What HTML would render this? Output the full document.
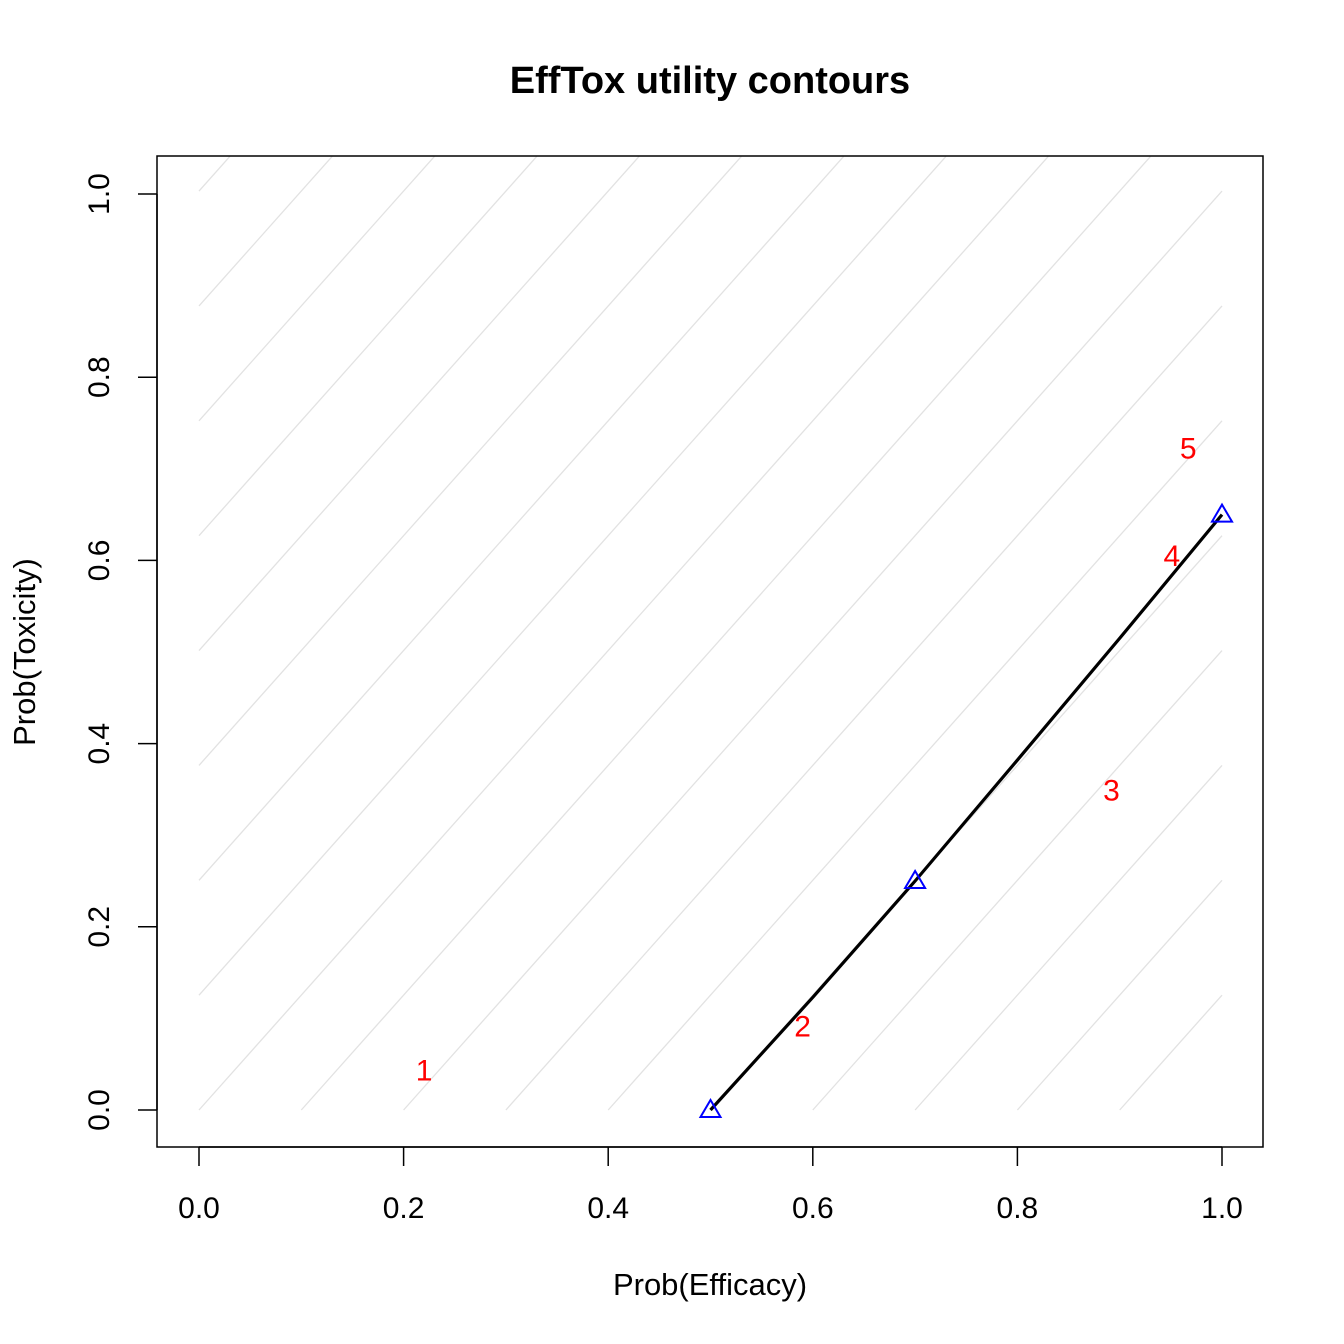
<!DOCTYPE html>
<html><head><meta charset="utf-8"><style>
html,body{margin:0;padding:0;background:#fff;}
svg{display:block;font-family:"Liberation Sans",Arial,sans-serif;}
</style></head><body>
<svg id="chart" width="1344" height="1344" viewBox="0 0 1344 1344">
<defs><clipPath id="pc"><rect x="157" y="156" width="1106" height="991"/></clipPath></defs>
<text x="710" y="93" text-anchor="middle" font-size="38" font-weight="bold">EffTox utility contours</text>
<g id="bg" clip-path="url(#pc)"></g>
<g id="marks"></g>
<rect x="157" y="156" width="1106" height="991" fill="none" stroke="#000" stroke-width="1.5"/>
<g id="axes"></g>
<text x="710" y="1295" text-anchor="middle" font-size="31">Prob(Efficacy)</text>
<text transform="translate(35,652) rotate(-90)" text-anchor="middle" font-size="31">Prob(Toxicity)</text>
</svg>
<script>
const xTicks = [0.0,0.2,0.4,0.6,0.8,1.0];
const yTicks = [0.0,0.2,0.4,0.6,0.8,1.0];
const contourIntercepts = [-0.8,-0.7,-0.6,-0.5,-0.4,-0.3,-0.2,-0.1,0,0.1,0.2,0.3,0.4,0.5,0.6,0.7,0.8,0.9];
const contourSlope = 1.254;
const curveEff = [0.5,0.6,0.7,0.8,0.9,1.0];
const curveTox = [0.0,0.123,0.25,0.382,0.515,0.65];
const pointEff = [0.5,0.7,1.0];
const pointTox = [0.0,0.25,0.65];
const labelText = ["1","2","3","4","5"];
const labelEff = [0.22,0.59,0.892,0.951,0.967];
const labelTox = [0.043,0.091,0.349,0.605,0.722];

const sx = v => 199 + v*1023;
const sy = v => 1110 - v*916;
const NS = "http://www.w3.org/2000/svg";
function mk(tag, attrs, parent){const e=document.createElementNS(NS,tag);for(const k in attrs)e.setAttribute(k,attrs[k]);parent.appendChild(e);return e;}
const bg=document.getElementById('bg'), marks=document.getElementById('marks'), axes=document.getElementById('axes');
const yTop = 1.041;
contourIntercepts.forEach(e0=>{
  let x1=Math.max(0,e0), y1=contourSlope*(x1-e0);
  let x2=Math.min(1,e0+yTop/contourSlope), y2=contourSlope*(x2-e0);
  if(x2<=x1) return;
  const l=mk('line',{x1:sx(x1),y1:sy(y1),x2:sx(x2),y2:sy(y2),stroke:'#e2e2e2','stroke-width':1.3},bg);
  
  
});
const pts=curveEff.map((e,i)=>sx(e)+','+sy(curveTox[i])).join(' ');
const pl=mk('polyline',{points:pts,fill:'none',stroke:'#000','stroke-width':3.2},marks);


pointEff.forEach((e,i)=>{
  const cx=sx(e), cy=sy(pointTox[i]);
  const t=mk('polygon',{points:`${cx-10},${cy+7} ${cx+10},${cy+7} ${cx},${cy-10}`,fill:'none',stroke:'#00f','stroke-width':2},marks);
  
  
});
labelText.forEach((s,i)=>{
  const t=mk('text',{x:sx(labelEff[i]),y:sy(labelTox[i])+10,'text-anchor':'middle','font-size':30,fill:'#f00'},marks);
  t.textContent=s;
  
  
});
mk('line',{x1:sx(0),y1:1147,x2:sx(1),y2:1147,stroke:'#000','stroke-width':1.5},axes);
xTicks.forEach(v=>{
  mk('line',{x1:sx(v),y1:1147,x2:sx(v),y2:1166,stroke:'#000','stroke-width':1.5},axes);
  const t=mk('text',{x:sx(v),y:1218,'text-anchor':'middle','font-size':30},axes);
  t.textContent=v.toFixed(1);
  
  
});
mk('line',{x1:157,y1:sy(0),x2:157,y2:sy(1),stroke:'#000','stroke-width':1.5},axes);
yTicks.forEach(v=>{
  mk('line',{x1:138,y1:sy(v),x2:157,y2:sy(v),stroke:'#000','stroke-width':1.5},axes);
  const t=mk('text',{transform:`translate(109,${sy(v)}) rotate(-90)`,'text-anchor':'middle','font-size':30},axes);
  t.textContent=v.toFixed(1);
  
  
});
</script>
</body></html>
